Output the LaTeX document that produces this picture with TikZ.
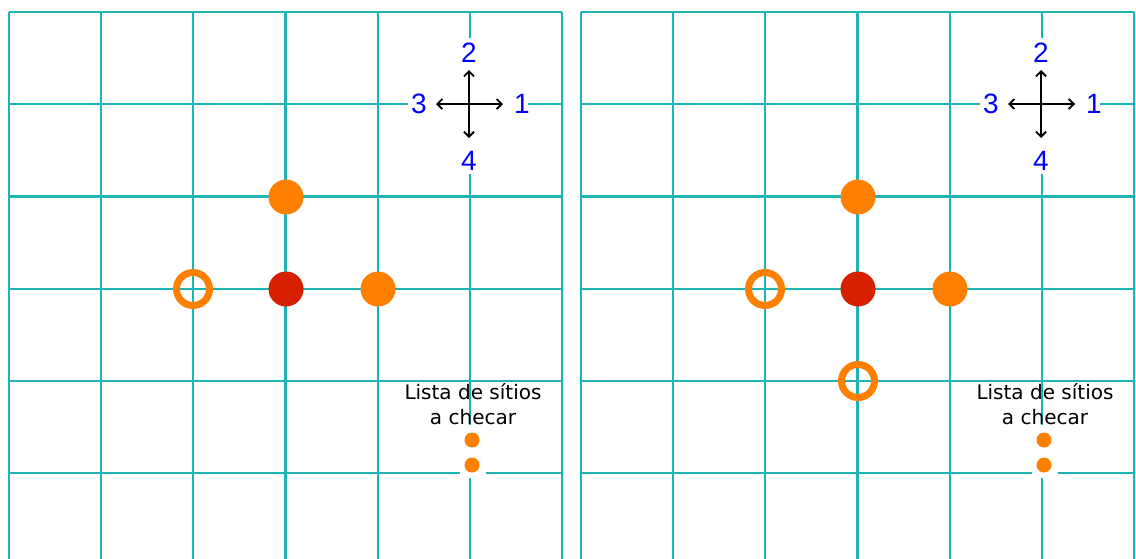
\documentclass[tikz,border=0pt]{standalone}
\usepackage{fontspec}
\setmainfont{DejaVu Sans}
\newfontfamily\arialf{Liberation Sans}
\usetikzlibrary{arrows.meta}
\definecolor{gridc}{RGB}{28,180,180}
\definecolor{orng}{RGB}{255,128,0}
\definecolor{redc}{RGB}{214,32,0}
\definecolor{numblue}{RGB}{0,0,255}
\tikzset{
  gridline/.style={draw=gridc,line width=2.2},
  bigdot/.style={circle,fill=orng,minimum size=35,inner sep=0},
  reddot/.style={circle,fill=redc,minimum size=35,inner sep=0},
  ringdot/.style={circle,draw=orng,line width=7,minimum size=33,inner sep=0},
  smalldot/.style={circle,fill=orng,minimum size=15,inner sep=0},
  numlabel/.style={font=\arialf\fontsize{28}{28}\selectfont,text=numblue,inner sep=0},
  compass/.style={line width=1.8,{Straight Barb[length=5,width=10]}-{Straight Barb[length=5,width=10]}},
  listtext/.style={align=center,font=\fontsize{20}{25}\selectfont,inner sep=0},
  blank/.style={fill=white,draw=none}
}
\begin{document}
\begin{tikzpicture}[x=1pt,y=-1pt]
\useasboundingbox[fill=white] (0,0) rectangle (1136,558);
\foreach \p/\ox in {L/0,R/572}{
  \begin{scope}[xshift=\ox]
    % grid
    \foreach \i in {0,...,6}{
      \draw[gridline] ({9+92.17*\i},12) -- ({9+92.17*\i},560);
    }
    \foreach \j in {0,...,5}{
      \draw[gridline] (9,{12+92.2*\j}) -- (562,{12+92.2*\j});
    }
    % compass
    \fill[blank] (408,38) rectangle (528,174);
    \coordinate (\p-cE) at (503,104);
    \coordinate (\p-cW) at (436,104);
    \coordinate (\p-cN) at (469,70);
    \coordinate (\p-cS) at (469,138);
    \draw[compass] (\p-cW) -- (\p-cE);
    \draw[compass] (\p-cS) -- (\p-cN);
    \node[numlabel] (\p-n1) at (522,104) {1};
    \node[numlabel] (\p-n2) at (469,53) {2};
    \node[numlabel] (\p-n3) at (419,104) {3};
    \node[numlabel] (\p-n4) at (469,161) {4};
    % list
    \node[listtext] (\p-list) at (473,404) {Lista de sítios\\a checar};
    \fill[blank] (460,425) rectangle (486,478);
    \node[smalldot] (\p-s1) at (472,440) {};
    \node[smalldot] (\p-s2) at (472,465) {};
    % sites
    \node[bigdot] (\p-top) at (286,197) {};
    \node[reddot] (\p-mid) at (286,289) {};
    \node[bigdot] (\p-right) at (378,289) {};
    \node[ringdot] (\p-left) at (193,289) {};
  \end{scope}
}
\node[ringdot] (R-bottom) at (858,381) {};
\end{tikzpicture}
\end{document}
